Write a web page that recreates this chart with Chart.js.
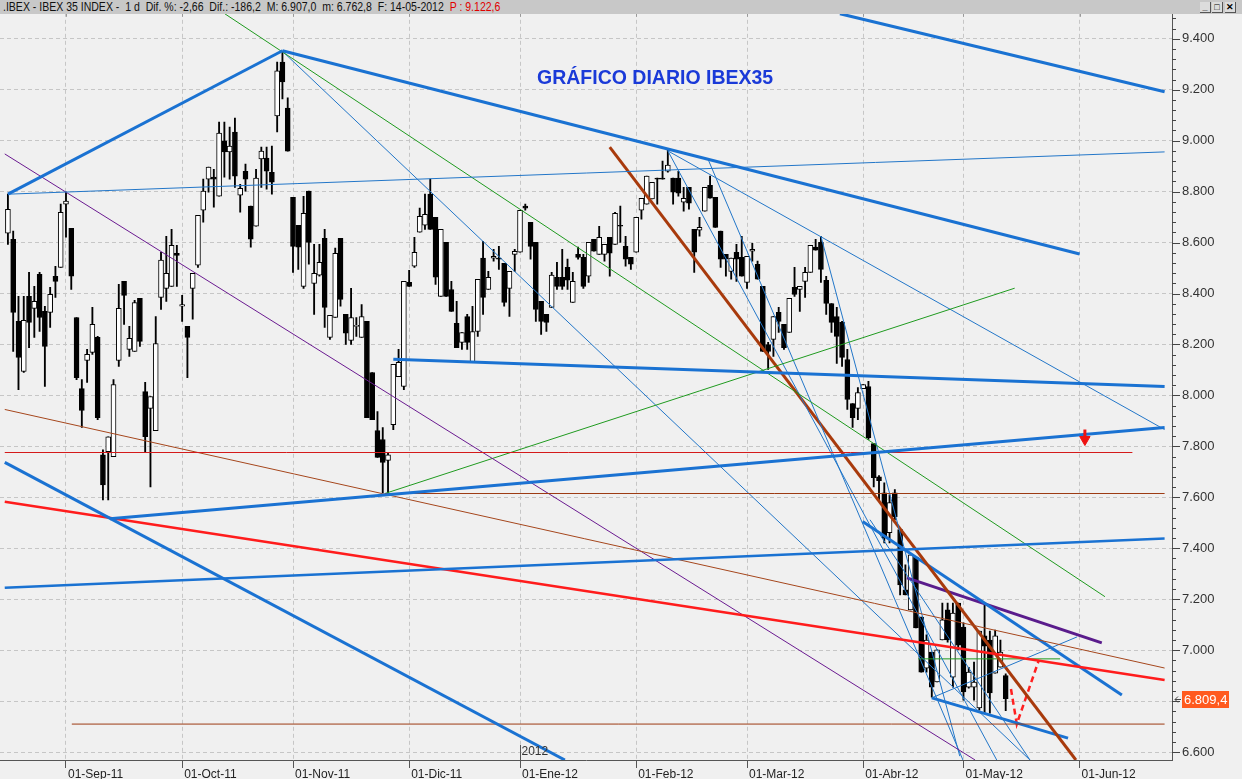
<!DOCTYPE html>
<html>
<head>
<meta charset="utf-8">
<script src="https://cdn.jsdelivr.net/npm/chart.js@4.4.0/dist/chart.umd.min.js"></script>
<style>
  html, body { margin: 0; padding: 0; background: #f0f0f0; }
  #wrap { position: relative; width: 1242px; height: 779px; overflow: hidden; background: #f0f0f0; }
  #header { position: absolute; left: 0; top: 0; width: 1242px; height: 14px; background: #c8c8c8; z-index: 2; }
  #headText { position: absolute; left: 3px; top: 0; line-height: 14px; white-space: pre; transform-origin: 0 0;
              font: 12px 'Liberation Sans', Arial, sans-serif; color: #111; }
  #headText .red { color: #e00000; }
  .btn { position: absolute; top: 2px; width: 10px; height: 10px; background: #dcdcdc;
         border-bottom: 1px solid #555; border-right: 1px solid #555; font: bold 9px 'Liberation Sans', sans-serif;
         line-height: 10px; text-align: center; color: #000; }
  #chartBox { position: absolute; left: 0; top: -5px; z-index: 1; }
  #title { position: absolute; left: 537px; top: 66px; font: bold 19.5px 'Liberation Sans', Arial, sans-serif;
           color: #1a3ad8; white-space: nowrap; z-index: 3; }
</style>
</head>
<body>
<div id="wrap">
  <div id="header">
    <span id="headText">.IBEX - IBEX 35 INDEX -  1 d  Dif. %: -2,66  Dif.: -186,2  M: 6.907,0  m: 6.762,8  F: 14-05-2012  <span class="red">P : 9.122,6</span></span>
    <div class="btn" style="left:1200px">_</div>
    <div class="btn" style="left:1212px">&#9633;</div>
    <div class="btn" style="left:1225px">&#10005;</div>
  </div>
  <div id="chartBox"><canvas id="c" width="1242" height="784"></canvas></div>
  <div id="title">GRÁFICO DIARIO IBEX35</div>
</div>
<script>
// trading-day index of the first candle (0 = 01-Sep-11)
const firstIndex = -11;

const opens = [
  8637,8613,8291,8094,8389,8342,8475,8330,8326,8468,
  8503,8751,8656,8306,8027,8137,8169,8228,7767,7779,
  7760,8137,8448,8181,8173,8381,8015,7949,7862,8385,
  8420,8428,8558,8350,8271,8420,8511,8727,8849,8857,
  8782,8999,8956,9034,8786,8880,8743,8664,8928,8932,
  8876,9097,9309,9128,8778,8668,8428,8802,8440,8472,
  8617,8228,8306,8617,8318,8216,8271,8228,8291,8090,
  7862,7827,7745,7885,8074,8035,8444,8507,8641,8668,
  8790,8699,8389,8601,8416,8283,8208,8310,8133,8251,
  8539,8416,8539,8539,8519,8420,8554,8562,8743,8680,
  8601,8369,8318,8346,8464,8464,8503,8365,8554,8542,
  8468,8613,8554,8554,8621,8593,8668,8585,8542,8562,
  8727,8751,8771,8853,8853,8880,8853,8853,8759,8817,
  8652,8649,8723,8825,8778,8645,8554,8487,8562,8542,
  8444,8566,8515,8428,8200,8220,8326,8279,8247,8424,
  8416,8448,8483,8582,8601,8452,8361,8310,8287,8141,
  7968,7949,8027,8035,7811,7681,7618,7461,7618,7473,
  7237,7158,7366,7130,6929,6993,6875,7040,7158,6894,
  7185,7091,6855,6855,6773,7056,7040,6910,6933,6900
];
const highs = [
  8790,8645,8389,8389,8483,8428,8483,8350,8424,8507,
  8751,8798,8656,8306,8062,8181,8346,8232,7787,7838,
  8062,8436,8448,8271,8373,8381,8051,7996,8310,8562,
  8625,8652,8589,8393,8271,8479,8707,8849,8896,8888,
  9073,9073,9053,9089,8829,8908,8743,8888,8975,8975,
  8979,9309,9352,9168,8778,8668,8782,8802,8593,8593,
  8652,8314,8578,8617,8318,8420,8306,8357,8291,8090,
  7937,7874,7775,8122,8181,8448,8491,8621,8735,8790,
  8849,8699,8652,8601,8448,8369,8247,8318,8350,8456,
  8605,8487,8574,8585,8519,8487,8574,8727,8751,8680,
  8601,8369,8318,8483,8523,8574,8535,8483,8582,8554,
  8601,8613,8664,8593,8621,8719,8743,8625,8542,8699,
  8774,8861,8837,8853,8920,8963,8853,8880,8817,8817,
  8652,8699,8817,8861,8778,8645,8554,8539,8593,8625,
  8546,8597,8527,8428,8208,8310,8346,8279,8381,8503,
  8428,8503,8589,8613,8625,8468,8361,8346,8291,8181,
  7968,8031,8043,8055,7811,7685,7657,7610,7630,7473,
  7335,7374,7366,7130,7060,6993,7001,7185,7185,7185,
  7185,7107,6933,6953,7075,7177,7075,7079,7040,6907
];
const lows = [
  8593,8173,8023,8090,8188,8228,8251,8035,8267,8385,
  8503,8621,8416,8062,7874,8051,8161,7905,7590,7590,
  7760,8114,8279,8153,8173,8192,7779,7641,7862,8338,
  8369,8428,8428,8291,8070,8299,8503,8680,8798,8739,
  8782,8857,8849,8817,8719,8802,8582,8664,8817,8810,
  8790,9034,9164,8959,8483,8495,8420,8515,8318,8468,
  8267,8220,8306,8350,8200,8200,8232,8228,7913,7905,
  7757,7618,7610,7866,8074,8023,8428,8503,8641,8652,
  8652,8436,8389,8389,8330,8188,8181,8181,8133,8232,
  8318,8416,8527,8495,8350,8310,8487,8562,8727,8535,
  8291,8240,8251,8346,8416,8416,8416,8365,8535,8420,
  8444,8566,8554,8527,8468,8593,8601,8507,8495,8562,
  8692,8751,8771,8751,8849,8876,8751,8782,8723,8731,
  8483,8625,8723,8774,8660,8503,8468,8456,8448,8468,
  8420,8527,8456,8173,8102,8153,8247,8181,8247,8389,
  8330,8385,8483,8570,8444,8318,8247,8126,8114,7945,
  7874,7905,8027,7827,7641,7590,7421,7421,7512,7217,
  7217,7158,7087,6914,6914,6816,6875,7040,7032,6855,
  7001,6804,6851,6804,6765,6753,6753,6910,6933,6763
];
const closes = [
  8731,8326,8149,8295,8287,8369,8306,8192,8397,8448,
  8719,8763,8468,8070,7941,8161,8279,7913,7649,7838,
  8043,8342,8393,8224,8365,8212,7838,7996,8204,8531,
  8479,8589,8550,8357,8228,8479,8707,8802,8896,8849,
  9030,8956,8979,8861,8813,8849,8613,8853,8959,8880,
  8837,9274,9231,8959,8585,8582,8715,8601,8479,8523,
  8346,8314,8558,8377,8244,8306,8275,8310,7913,7905,
  7757,7737,7767,8122,8130,8448,8428,8562,8703,8711,
  8652,8464,8652,8389,8330,8188,8247,8208,8251,8456,
  8385,8464,8546,8535,8365,8487,8566,8727,8735,8585,
  8338,8291,8287,8472,8428,8428,8452,8448,8542,8428,
  8601,8566,8621,8593,8558,8715,8664,8535,8515,8699,
  8774,8861,8837,8849,8849,8904,8798,8794,8774,8755,
  8562,8660,8817,8774,8660,8535,8535,8539,8535,8468,
  8546,8574,8456,8173,8173,8310,8291,8188,8381,8397,
  8428,8483,8589,8570,8495,8361,8287,8232,8149,7984,
  7913,8011,8043,7834,7677,7665,7441,7579,7524,7256,
  7217,7374,7087,6914,7040,6855,7001,7119,7040,7146,
  7020,6836,6914,6875,7075,7016,6832,7056,6993,6809.4
];

// x axis: trading-day index of each month start
const tickIdx = [0, 22, 43, 65, 86, 108, 129, 151, 170, 192];
const tickLabels = ['01-Sep-11', '01-Oct-11', '01-Nov-11', '01-Dic-11', '01-Ene-12',
                    '01-Feb-12', '01-Mar-12', '01-Abr-12', '01-May-12', '01-Jun-12'];
const yearIdx = 86;
const yearLabel = '2012';

// y axis
const yTicks = [6600, 6800, 7000, 7200, 7400, 7600, 7800, 8000, 8200, 8400, 8600, 8800, 9000, 9200, 9400];

// drawn trend lines, [index, value] pairs
const trendPoints = {
  risingTop:     [[-11, 8790], [41, 9353]],
  fallingTop:    [[41, 9353], [192, 8555]],
  upperRight:    [[146.6, 9498], [208.1, 9192]],
  augustLine:    [[-11, 8790], [208.1, 8956]],
  decLine:       [[62, 8142], [208.1, 8035]],
  supportRise:   [[8.3, 7516], [208.1, 7874]],
  lowerRise:     [[-11.6, 7245], [208.1, 7438]],
  lowerLeftFall: [[-11.6, 7737], [94.5, 6569]],
  redLevel:      [[-11.6, 7776], [202, 7776]],
  brownLevel1:   [[60.4, 7615], [208.1, 7615]],
  brownLevel2:   [[1.1, 6710], [208.1, 6710]],
  brownFall:     [[-11.6, 7945], [208.1, 6930]],
  redFall:       [[-11.6, 7583], [208.1, 6883]],
  purpleFall:    [[-11.6, 8948], [172.2, 6569]],
  greenFall:     [[30.1, 9498], [196.8, 7210]],
  greenRise:     [[60.4, 7615], [179.7, 8421]],
  octFan:        [[40.9, 9353], [182.6, 6569]],
  febFan1:       [[114, 8960], [176.3, 6569]],
  febFan2:       [[114, 8960], [208.1, 7866]],
  febFan3:       [[121.6, 8928], [169.9, 6569]],
  marFan:        [[143, 8625], [169.3, 6584]],
  aprFan:        [[152.3, 7512], [182.6, 6569]],
  channelUp:     [[164, 6813], [191.5, 7052]],
  brownTrend:    [[103, 8975], [191.3, 6569]],
  aprTop:        [[150.9, 7505], [200, 6824]],
  aprLow:        [[164, 6813], [189.8, 6655]],
  purpleTop:     [[159.3, 7284], [196.2, 7029]],
  greenFlat:     [[161.4, 6966], [188.3, 6966]],
  redPath:       [[179, 6848], [180.1, 6710], [184.3, 6962]]
};
const arrowPoint = [[193, 7827]];

const BLUE = '#1a72d2', THIN_BLUE = '#2276c8', RED = '#ff1c1c', BROWN = '#9c3a12',
      RUST = '#a83a0c', PURPLE = '#5a1c8c', GREEN = '#1f9a1f';
const trendStyle = {
  risingTop: [BLUE, 3], fallingTop: [BLUE, 3], upperRight: [BLUE, 3], augustLine: [THIN_BLUE, 1],
  decLine: [BLUE, 3], supportRise: [BLUE, 3], lowerRise: [BLUE, 2.5], lowerLeftFall: [BLUE, 3],
  redLevel: ['#d41a1a', 1], brownLevel1: [BROWN, 1], brownLevel2: [BROWN, 1], brownFall: ['#a5461c', 1],
  redFall: [RED, 2.5], purpleFall: ['#6a1a90', 1], greenFall: [GREEN, 1], greenRise: [GREEN, 1],
  octFan: [THIN_BLUE, 1], febFan1: [THIN_BLUE, 1], febFan2: [THIN_BLUE, 1], febFan3: [THIN_BLUE, 1],
  marFan: [THIN_BLUE, 1], aprFan: [THIN_BLUE, 1], channelUp: [THIN_BLUE, 1], brownTrend: [RUST, 3],
  aprTop: [BLUE, 3], aprLow: [BLUE, 3], purpleTop: [PURPLE, 3], greenFlat: [GREEN, 1],
  redPath: ['#ff2020', 2.5]
};

const fmt = (v, dec) => {
  const parts = v.toFixed(dec).split('.');
  const int = parts[0].replace(/\B(?=(\d{3})+(?!\d))/g, '.');
  return dec ? int + ',' + parts[1] : int;
};

// squeeze the header line to the width it has in the terminal
const head = document.getElementById('headText');
head.style.transform = 'scaleX(' + (497 / head.offsetWidth) + ')';

const bodyData = opens.map((o, k) => ({ x: firstIndex + k, y: [Math.min(o, closes[k]), Math.max(o, closes[k])] }));
const wickData = highs.map((h, k) => ({ x: firstIndex + k, y: [lows[k], h] }));
const bodyFill = opens.map((o, k) => (closes[k] >= o ? '#ffffff' : '#000000'));

const lineSets = Object.keys(trendPoints).map((name, k) => ({
  type: 'line',
  label: name,
  data: trendPoints[name].map(p => ({ x: p[0], y: p[1] })),
  borderColor: trendStyle[name][0],
  borderWidth: trendStyle[name][1],
  borderDash: name === 'redPath' ? [6, 4] : [],
  pointRadius: 0,
  fill: false,
  tension: 0,
  order: 2 + k
}));

const decor = {
  id: 'decor',
  afterDraw(chart) {
    const { ctx, chartArea, scales } = chart;
    const xs = scales.x, ys = scales.y;
    ctx.save();
    // y axis major / minor tick marks
    ctx.strokeStyle = '#444';
    ctx.lineWidth = 1;
    for (let v = 6600; v <= 9480; v += 40) {
      const y = Math.round(ys.getPixelForValue(v)) + 0.5;
      const len = v % 200 === 0 ? 8 : 4;
      ctx.beginPath();
      ctx.moveTo(chartArea.right, y);
      ctx.lineTo(chartArea.right + len, y);
      ctx.stroke();
    }
    // small ticks along the top edge
    ctx.strokeStyle = '#999';
    tickIdx.forEach(i => {
      const x = Math.round(xs.getPixelForValue(i)) + 0.5;
      ctx.beginPath();
      ctx.moveTo(x, chartArea.top);
      ctx.lineTo(x, chartArea.top + 4);
      ctx.stroke();
    });
    // year marker
    const yx = Math.round(xs.getPixelForValue(yearIdx)) + 0.5;
    ctx.strokeStyle = '#555';
    ctx.beginPath();
    ctx.moveTo(yx, chartArea.bottom - 15);
    ctx.lineTo(yx, chartArea.bottom);
    ctx.stroke();
    ctx.fillStyle = '#333';
    ctx.font = '12px "Liberation Sans", Arial, sans-serif';
    ctx.textBaseline = 'middle';
    ctx.textAlign = 'left';
    ctx.fillText(yearLabel, yx + 1, chartArea.bottom - 8);
    // arrow stem above the red marker
    const ap = arrowPoint[0];
    const ax = xs.getPixelForValue(ap[0]), ay = ys.getPixelForValue(ap[1]);
    ctx.strokeStyle = '#ee1111';
    ctx.lineWidth = 3;
    ctx.beginPath();
    ctx.moveTo(ax, ay - 10);
    ctx.lineTo(ax, ay - 3);
    ctx.stroke();
    // last price tag
    const last = closes[closes.length - 1];
    const py = Math.round(ys.getPixelForValue(last));
    ctx.lineWidth = 1;
    ctx.fillStyle = '#ff5a1e';
    ctx.fillRect(chartArea.right + 10, py - 8, 47, 17);
    ctx.fillStyle = '#ffffff';
    ctx.font = '13px "Liberation Sans", Arial, sans-serif';
    ctx.fillText(fmt(last, 1), chartArea.right + 12, py + 1);
    ctx.strokeStyle = '#444';
    ctx.beginPath();
    ctx.moveTo(chartArea.right + 3, py + 0.5);
    ctx.lineTo(chartArea.right + 9, py + 0.5);
    ctx.moveTo(chartArea.right + 3, py + 0.5);
    ctx.lineTo(chartArea.right + 6, py - 2.5);
    ctx.moveTo(chartArea.right + 3, py + 0.5);
    ctx.lineTo(chartArea.right + 6, py + 3.5);
    ctx.stroke();
    ctx.restore();
  }
};

new Chart(document.getElementById('c'), {
  type: 'bar',
  data: {
    datasets: [
      ...lineSets,
      {
        type: 'scatter',
        label: 'arrow',
        data: arrowPoint.map(p => ({ x: p[0], y: p[1] })),
        pointStyle: 'triangle',
        rotation: 180,
        radius: 6,
        backgroundColor: '#ee1111',
        borderColor: '#ee1111',
        order: 1
      },
      {
        type: 'bar',
        label: 'body',
        data: bodyData,
        backgroundColor: bodyFill,
        borderColor: '#000',
        borderWidth: 1,
        borderSkipped: false,
        barThickness: 5,
        minBarLength: 1,
        grouped: false,
        order: 60
      },
      {
        type: 'bar',
        label: 'wick',
        data: wickData,
        backgroundColor: '#000',
        borderWidth: 0,
        barThickness: 1.2,
        grouped: false,
        order: 61
      }
    ]
  },
  options: {
    responsive: false,
    devicePixelRatio: 1,
    animation: false,
    layout: { padding: 0, autoPadding: false },
    plugins: { legend: { display: false }, tooltip: { enabled: false }, title: { display: false } },
    scales: {
      x: {
        type: 'linear',
        min: -12.5,
        max: 209.5,
        offset: false,
        afterBuildTicks: s => { s.ticks = tickIdx.map(v => ({ value: v })); },
        afterFit: s => { s.height = 19; },
        ticks: {
          autoSkip: false,
          maxRotation: 0,
          align: 'start',
          labelOffset: 2,
          padding: -1,
          color: '#222',
          font: { family: '"Liberation Sans", Arial, sans-serif', size: 12 },
          callback: (v, i) => tickLabels[i]
        },
        grid: { color: '#c6c6c6', offset: false, tickLength: 8, tickColor: '#555' },
        border: { color: '#555', dash: [4, 3] }
      },
      y: {
        position: 'right',
        min: 6569,
        max: 9502,
        afterBuildTicks: s => { s.ticks = yTicks.map(v => ({ value: v })); },
        afterFit: s => { s.width = 70; },
        ticks: {
          autoSkip: false,
          padding: 10,
          color: '#333',
          font: { family: '"Liberation Sans", Arial, sans-serif', size: 13 },
          callback: v => fmt(v, 0)
        },
        grid: { color: '#c6c6c6', drawTicks: false },
        border: { color: '#555', dash: [4, 3] }
      }
    }
  },
  plugins: [decor]
});
</script>
</body>
</html>
